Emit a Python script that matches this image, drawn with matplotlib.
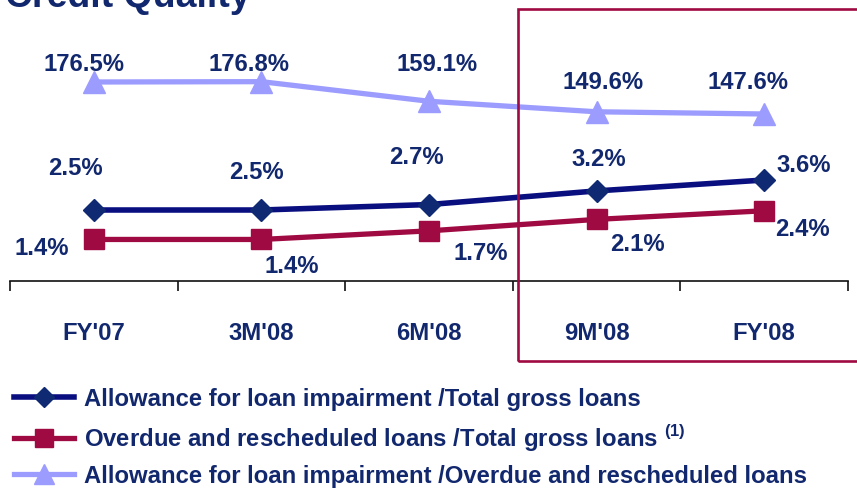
import matplotlib
matplotlib.use("Agg")
import matplotlib.pyplot as plt
from matplotlib.patches import Rectangle

plt.rcParams['font.family'] = ['Liberation Sans', 'DejaVu Sans']
plt.rcParams['font.weight'] = 'bold'
plt.rcParams['mathtext.fontset'] = 'custom'
plt.rcParams['mathtext.rm'] = 'Liberation Sans:bold'

# ---- data ----
categories = ["FY'07", "3M'08", "6M'08", "9M'08", "FY'08"]
allow_total = [2.5, 2.5, 2.7, 3.2, 3.6]          # Allowance / Total gross loans
overdue_total = [1.4, 1.4, 1.7, 2.1, 2.4]        # Overdue & rescheduled / Total gross loans
allow_overdue = [176.5, 176.8, 159.1, 149.6, 147.6]  # Allowance / Overdue & rescheduled
series_names = [
    "Allowance for loan impairment /Total gross loans",
    "Overdue and rescheduled loans /Total gross loans $^{\\mathrm{(1)}}$",
    "Allowance for loan impairment /Overdue and rescheduled loans",
]

# ---- style ----
TXT = '#12286E'
C_BLUE = '#0A0F80'
C_BLUE_M = '#0F2A72'
C_RED = '#A00A42'
C_LAV = '#9C9CFF'
FS = 17.2

W, H = 857, 489
fig = plt.figure(figsize=(W / 100, H / 100), dpi=100)

x0p, x1p, ybot, ytop = 10, 848, 282, 20
pos = [x0p / W, 1 - ybot / H, (x1p - x0p) / W, (ybot - ytop) / H]

ax = fig.add_axes(pos)
xs = list(range(len(categories)))
ax.set_xlim(-0.5, len(categories) - 0.5)
ax.set_ylim(0, 1)
for s in ['top', 'right', 'left']:
    ax.spines[s].set_visible(False)
ax.spines['bottom'].set_linewidth(1.2)
ax.spines['bottom'].set_color('#111111')
ax.set_yticks([])
ax.set_xticks(xs)
ax.set_xticklabels(categories, fontsize=FS, color=TXT, fontweight='bold')
ax.tick_params(axis='x', which='major', length=0, pad=28.5)
ax.set_xticks([i - 0.5 for i in range(len(categories) + 1)], minor=True)
ax.tick_params(axis='x', which='minor', length=7.5, width=1.2, color='#111111', direction='out')
ax.patch.set_visible(False)

def series_axes(ylim):
    a = fig.add_axes(pos, sharex=ax)
    a.set_ylim(*ylim)
    a.axis('off')
    a.patch.set_visible(False)
    return a

ax_lav = series_axes((-3.22, 233.39))
ax_blue = series_axes((-0.1036, 9.504))
ax_red = series_axes((-0.0483, 9.0862))

h_lav, = ax_lav.plot(xs, allow_overdue, color=C_LAV, lw=3.8, marker='^', ms=16.5,
                     mfc=C_LAV, mec=C_LAV, clip_on=False, zorder=3)
h_blue, = ax_blue.plot(xs, allow_total, color=C_BLUE, lw=4, marker='D', ms=11.5,
                       mfc=C_BLUE_M, mec=C_BLUE_M, clip_on=False, zorder=3)
h_red, = ax_red.plot(xs, overdue_total, color=C_RED, lw=3.8, marker='s', ms=15,
                     mfc=C_RED, mec=C_RED, clip_on=False, zorder=3)

# label offsets in pixels (dx, dy up)
off_lav = [(-10, 18.5), (-12, 18.5), (8, 37.5), (6, 30.5), (-16, 32.5)]
off_blue = [(-18, 42.5), (-5, 38.5), (-13, 48.5), (2, 32.5), (40, 15.5)]
off_red = [(-52, -8.5), (30, -26.5), (52, -21.5), (41, -24.5), (38, -17.5)]

for a, vals, offs in [(ax_lav, allow_overdue, off_lav),
                      (ax_blue, allow_total, off_blue),
                      (ax_red, overdue_total, off_red)]:
    for xi, v, (dx, dy) in zip(xs, vals, offs):
        a.annotate(f"{v:.1f}%", (xi, v), xytext=(dx, dy), textcoords='offset pixels',
                   ha='center', va='center', fontsize=FS, color=TXT, fontweight='bold',
                   annotation_clip=False)

# highlight box
fig.patches.append(Rectangle((518 / W, 1 - 362 / H), 400 / W, 352 / H,
                             transform=fig.transFigure, fill=False,
                             edgecolor=C_RED, lw=1.9, zorder=5))

# title (cut off at top, as in the reference)
fig.text(5 / W, 1 - 7 / H, "Credit Quality", fontsize=27, fontweight='bold',
         color=TXT, ha='left', va='baseline')

# legend
leg = fig.legend([h_blue, h_red, h_lav], series_names, loc='upper left',
                 bbox_to_anchor=(14 / W, 1 - 388 / H), frameon=False,
                 labelcolor=TXT, handlelength=2.5, handletextpad=0.42,
                 borderpad=0, borderaxespad=0, labelspacing=0.48, markerscale=0.85,
                 prop={'weight': 'bold', 'size': FS})

fig.savefig("out.png", dpi=100)
